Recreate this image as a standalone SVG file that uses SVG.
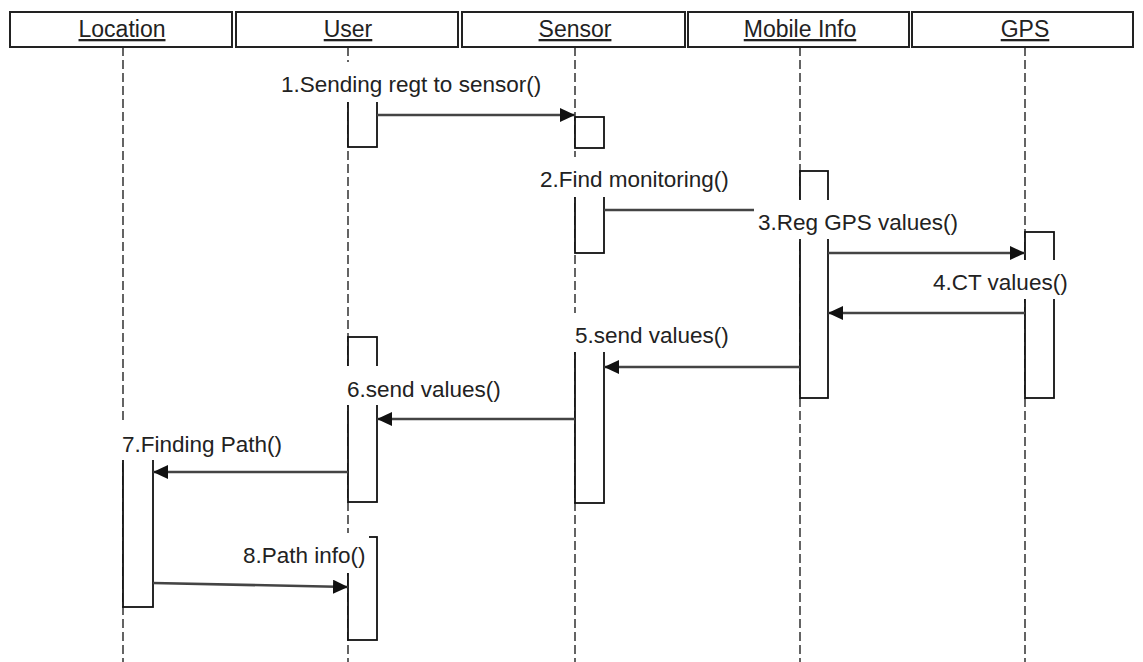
<svg xmlns="http://www.w3.org/2000/svg" width="1143" height="662" viewBox="0 0 1143 662">
<style>
.hd{fill:#fff;stroke:#222;stroke-width:2}
.ht{font-family:"Liberation Sans",Arial,sans-serif;font-size:23px;fill:#222;text-anchor:middle;text-decoration:underline}
.ll{stroke:#111;stroke-width:1.3;stroke-dasharray:9,4;fill:none}
.act{fill:#fff;stroke:#111;stroke-width:1.8}
.msg{stroke:#444;stroke-width:2.6;fill:none}
.lb{font-family:"Liberation Sans",Arial,sans-serif;font-size:22.5px;fill:#222}
.bg{fill:#fff}
</style>
<defs>
<marker id="ah" viewBox="0 0 15 14" refX="15" refY="7" markerWidth="15" markerHeight="14" markerUnits="userSpaceOnUse" orient="auto">
<path d="M0,0 L15,7 L0,14 z" fill="#111"/>
</marker>
</defs>
<g id="lifelines">
<line class="ll" x1="123" y1="47" x2="123" y2="662"/>
<line class="ll" x1="348" y1="47" x2="348" y2="662"/>
<line class="ll" x1="575" y1="47" x2="575" y2="662"/>
<line class="ll" x1="800" y1="47" x2="800" y2="662"/>
<line class="ll" x1="1025" y1="47" x2="1025" y2="662"/>
</g>
<g id="Location">
<rect class="hd" x="10" y="12" width="222" height="35"/>
<text class="ht" x="122" y="37">Location</text>
<rect class="act" x="123" y="455" width="30" height="152"/>
</g>
<g id="User">
<rect class="hd" x="236" y="12" width="222" height="35"/>
<text class="ht" x="348" y="37">User</text>
<rect class="act" x="348" y="99" width="29" height="48"/>
<rect class="act" x="348" y="337" width="29" height="165"/>
<rect class="act" x="348" y="537" width="29" height="103"/>
</g>
<g id="Sensor">
<rect class="hd" x="462" y="12" width="223" height="35"/>
<text class="ht" x="575" y="37">Sensor</text>
<rect class="act" x="575" y="117" width="29" height="31"/>
<rect class="act" x="575" y="193" width="29" height="60"/>
<rect class="act" x="575" y="350" width="29" height="153"/>
</g>
<g id="MobileInfo">
<rect class="hd" x="688" y="12" width="221" height="35"/>
<text class="ht" x="800" y="37">Mobile Info</text>
<rect class="act" x="800" y="171" width="28" height="227"/>
</g>
<g id="GPS">
<rect class="hd" x="912" y="12" width="221" height="35"/>
<text class="ht" x="1025" y="37">GPS</text>
<rect class="act" x="1025" y="232" width="29" height="166"/>
</g>
<g id="connectors">
<line class="msg" x1="377" y1="115" x2="575" y2="115" marker-end="url(#ah)"/>
<line class="msg" x1="604" y1="210" x2="800" y2="210"/>
<line class="msg" x1="828" y1="253" x2="1025" y2="253" marker-end="url(#ah)"/>
<line class="msg" x1="1025" y1="313" x2="828" y2="313" marker-end="url(#ah)"/>
<line class="msg" x1="800" y1="367" x2="604" y2="367" marker-end="url(#ah)"/>
<line class="msg" x1="575" y1="419" x2="377" y2="419" marker-end="url(#ah)"/>
<line class="msg" x1="348" y1="472" x2="153" y2="472" marker-end="url(#ah)"/>
<line class="msg" x1="153" y1="583" x2="348" y2="587" marker-end="url(#ah)"/>
</g>
<g id="labels">
<rect class="bg" x="277" y="62" width="266" height="40"/>
<text class="lb" x="281" y="92">1.Sending regt to sensor()</text>
<rect class="bg" x="536" y="157" width="198" height="40"/>
<text class="lb" x="540" y="187">2.Find monitoring()</text>
<rect class="bg" x="754" y="200" width="208" height="39"/>
<text class="lb" x="758" y="230" textLength="200" lengthAdjust="spacingAndGlyphs">3.Reg GPS values()</text>
<rect class="bg" x="929" y="260" width="142" height="39"/>
<text class="lb" x="933" y="290">4.CT values()</text>
<rect class="bg" x="571" y="313" width="161" height="39"/>
<text class="lb" x="575" y="343">5.send values()</text>
<rect class="bg" x="343" y="366" width="164" height="39"/>
<text class="lb" x="347" y="397">6.send values()</text>
<rect class="bg" x="118" y="422" width="168" height="38"/>
<text class="lb" x="122" y="452">7.Finding Path()</text>
<rect class="bg" x="239" y="533" width="130" height="40"/>
<text class="lb" x="243" y="563">8.Path info()</text>
</g>
</svg>
